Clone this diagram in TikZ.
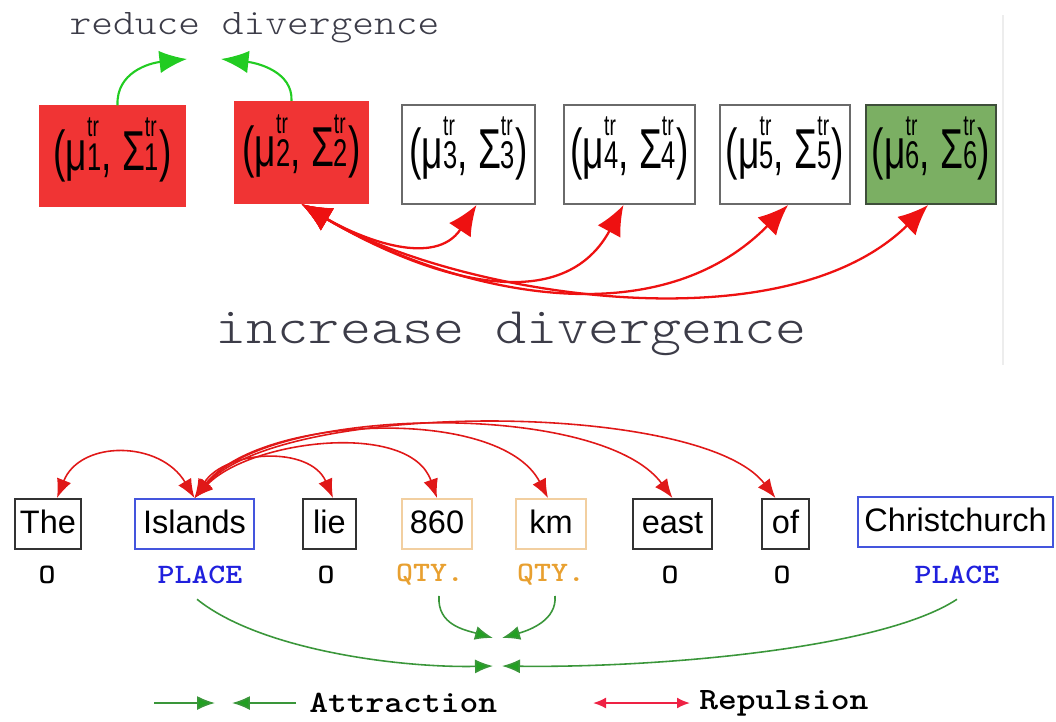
\documentclass[tikz,border=0pt]{standalone}
\usepackage{fontspec}
\usepackage{graphicx}
\usetikzlibrary{arrows.meta}
\newfontfamily\arialf{Liberation Sans}
\definecolor{boxred}{HTML}{F03434}
\definecolor{boxgreen}{HTML}{7BAF63}
\definecolor{boxgreenborder}{HTML}{3E4E3A}
\definecolor{grayborder}{HTML}{6A6A6A}
\definecolor{arrred}{HTML}{EE1111}
\definecolor{arrredb}{HTML}{E01818}
\definecolor{legred}{HTML}{EE2244}
\definecolor{brightgreen}{HTML}{22CC22}
\definecolor{attgreen}{HTML}{3A963A}
\definecolor{attgreenhead}{HTML}{22A022}
\definecolor{placeblue}{HTML}{2020DD}
\definecolor{boxblue}{HTML}{4455DD}
\definecolor{qtyorange}{HTML}{E8A030}
\definecolor{orangeborder}{HTML}{F2CFA0}
\definecolor{labelgray}{HTML}{3C3C48}
\definecolor{wordborder}{HTML}{333333}
\definecolor{faintline}{HTML}{EDEDED}
\newcommand\trs[1]{\rlap{\raisebox{19pt}{\fontsize{16.5}{16.5}\selectfont tr}}{\fontsize{22}{22}\selectfont #1}}
\newcommand\musig[1]{\scalebox{0.66}[1]{\arialf\fontsize{32}{32}\selectfont (μ\trs{#1}, Σ\trs{#1})}}
\newcommand\wide[1]{\scalebox{1.15}[1]{#1}}
\tikzset{
  gbox/.style={draw=grayborder, line width=1.2pt, inner sep=0pt, minimum height=1.98cm, text height=21pt, text depth=5pt},
  word/.style={draw=wordborder, line width=1.1pt, inner sep=0pt, minimum height=1cm, text height=13.2pt, text depth=2pt, font=\arialf\fontsize{18.5}{18.5}\selectfont},
  tag/.style={inner sep=0pt, font=\ttfamily\bfseries\fontsize{16}{16}\selectfont},
  legtext/.style={inner sep=0pt, anchor=west, font=\ttfamily\bfseries\fontsize{17.7}{17.7}\selectfont},
  divlabel/.style={inner sep=0pt, text=labelgray},
  rep/.style={draw=arrred, line width=1.3pt, {Latex[length=0.6cm,width=0.52cm]}-{Latex[length=0.6cm,width=0.52cm]}},
  repb/.style={draw=arrredb, line width=0.9pt, {Latex[length=0.38cm,width=0.3cm]}-{Latex[length=0.38cm,width=0.3cm]}},
  redu/.style={draw=brightgreen, line width=1.2pt, -{Latex[length=0.55cm,width=0.45cm]}},
  att/.style={draw=attgreen, line width=0.9pt, -{Latex[length=0.36cm,width=0.28cm,fill=attgreenhead]}},
  repleg/.style={draw=legred, line width=1.1pt, {Latex[length=0.26cm,width=0.22cm]}-{Latex[length=0.26cm,width=0.22cm]}}
}
\begin{document}
\begin{tikzpicture}[x=0.02cm,y=-0.02cm]
\useasboundingbox (0,0) rectangle (1056,721);
% faint divider
\coordinate (d1) at (1003,15);
\coordinate (d2) at (1003,365);
\draw[faintline, line width=0.6pt] (d1) -- (d2);

% top boxes
\node[gbox, fill=boxred, draw=boxred, minimum width=2.9cm] (b1) at (112.5,156) {\musig{1}};
\node[gbox, fill=boxred, draw=boxred, minimum width=2.66cm, minimum height=2.02cm] (b2) at (301.5,152.5) {\musig{2}};
\node[gbox, minimum width=2.66cm] (b3) at (468.5,154.5) {\musig{3}};
\node[gbox, minimum width=2.62cm] (b4) at (629.5,154.5) {\musig{4}};
\node[gbox, minimum width=2.6cm] (b5) at (785,154.5) {\musig{5}};
\node[gbox, fill=boxgreen, draw=boxgreenborder, minimum width=2.6cm] (b6) at (931,154.5) {\musig{6}};

\node[divlabel, font=\ttfamily\fontseries{l}\fontsize{20.5}{20.5}\selectfont] (rd) at (254.5,28) {\wide{reduce divergence}};
\node[divlabel, font=\ttfamily\fontseries{l}\fontsize{29.3}{29.3}\selectfont] (id) at (511,334) {\wide{increase divergence}};

% reduce divergence arrows
\coordinate (rt1) at (187,59);
\coordinate (rt2) at (221,59);
\draw[redu] ([xshift=0.1cm]b1.north) .. controls (116,72) and (150,63) .. (rt1);
\draw[redu] ([xshift=-0.2cm]b2.north) .. controls (293,72) and (258,63) .. (rt2);

% increase divergence arrows
\draw[rep] (b2.south) .. controls (361.5,239) and (435,268) .. ([xshift=0.16cm]b3.south);
\draw[rep] (b2.south) .. controls (421.5,275) and (560,322) .. ([xshift=-0.12cm]b4.south);
\draw[rep] (b2.south) .. controls (438.6,285.2) and (650,345) .. ([xshift=0.06cm]b5.south);
\draw[rep] (b2.south) .. controls (451.5,293) and (780,350) .. ([xshift=-0.06cm]b6.south);

% words
\node[word, minimum width=1.32cm] (w1) at (48,524) {The};
\node[word, draw=boxblue, minimum width=2.38cm] (w2) at (194.5,524) {Islands};
\node[word, minimum width=1.06cm] (w3) at (329.5,524) {lie};
\node[word, draw=orangeborder, minimum width=1.4cm] (w4) at (437,524) {860};
\node[word, draw=orangeborder, minimum width=1.4cm] (w5) at (551,524) {km};
\node[word, minimum width=1.58cm] (w6) at (672.5,524) {east};
\node[word, minimum width=0.94cm] (w7) at (785.5,524) {of};
\node[word, draw=boxblue, minimum width=3.9cm] (w8) at (955.5,522) {Christchurch};

% tags
\node[tag, text=black] (t1) at (47,575) {\wide{O}};
\node[tag, text=placeblue] (t2) at (200,575) {\wide{PLACE}};
\node[tag, text=black] (t3) at (326,575) {\wide{O}};
\node[tag, text=qtyorange] (t4) at (430,575) {\wide{QTY.}};
\node[tag, text=qtyorange] (t5) at (551,575) {\wide{QTY.}};
\node[tag, text=black] (t6) at (670,575) {\wide{O}};
\node[tag, text=black] (t7) at (782,575) {\wide{O}};
\node[tag, text=placeblue] (t8) at (957,575) {\wide{PLACE}};

% repulsion arcs
\draw[repb] (w2.north) .. controls (160,440) and (80,440) .. ([xshift=0.18cm]w1.north);
\draw[repb] (w2.north) .. controls (225,450) and (310,445) .. ([xshift=0.07cm]w3.north);
\draw[repb] (w2.north) .. controls (250,440) and (410,420) .. (w4.north);
\draw[repb] (w2.north) .. controls (260,415) and (500,405) .. ([xshift=-0.06cm]w5.north);
\draw[repb] (w2.north) .. controls (270,405) and (600,400) .. (w6.north);
\draw[repb] (w2.north) .. controls (280,400) and (700,400) .. ([xshift=-0.2cm]w7.north);

% attraction arrows
\coordinate (aL) at (493,666);
\coordinate (aR) at (502,666);
\coordinate (qL) at (493,638);
\coordinate (qR) at (502,638);
\draw[att] ([xshift=-0.06cm,yshift=-0.3cm]t2.south) .. controls (260,650) and (400,668) .. (aL);
\draw[att] ([yshift=-0.3cm]t8.south) .. controls (880,650) and (650,668) .. (aR);
\draw[att] ([xshift=0.18cm,yshift=-0.2cm]t4.south) .. controls (437,625) and (465,630) .. (qL);
\draw[att] ([xshift=0.08cm,yshift=-0.2cm]t5.south) .. controls (557,620) and (530,630) .. (qR);

% legend
\coordinate (la1) at (154,703);
\coordinate (la2) at (215,703);
\coordinate (la3) at (296,703);
\coordinate (la4) at (232,703);
\draw[att] (la1) -- (la2);
\draw[att] (la3) -- (la4);
\node[legtext] (lat) at (309,703) {\wide{Attraction}};
\coordinate (lr1) at (593,703);
\coordinate (lr2) at (690,703);
\draw[repleg] (lr1) -- (lr2);
\node[legtext] (lrp) at (699,703) {\wide{Repulsion}};
\end{tikzpicture}
\end{document}
